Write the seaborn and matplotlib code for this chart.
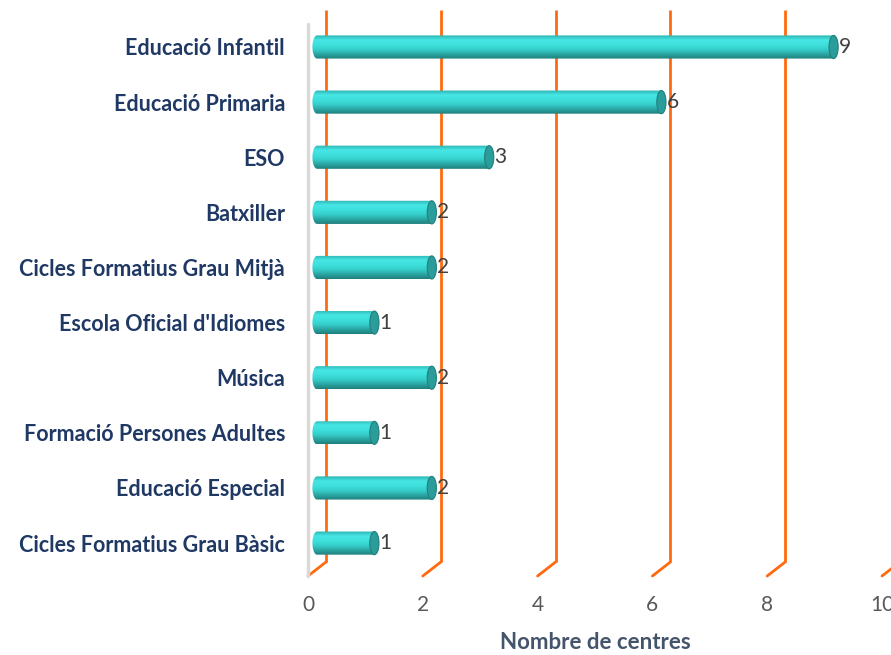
import matplotlib
matplotlib.use('Agg')
import matplotlib.pyplot as plt
import matplotlib.transforms as mtransforms
from matplotlib.colors import LinearSegmentedColormap
from matplotlib.patches import Ellipse, PathPatch
from matplotlib.path import Path
import numpy as np
import pandas as pd
import seaborn as sns

# Data
categories = ['Educació Infantil', 'Educació Primaria', 'ESO', 'Batxiller',
              'Cicles Formatius Grau Mitjà', "Escola Oficial d'Idiomes",
              'Música', 'Formació Persones Adultes', 'Educació Especial',
              'Cicles Formatius Grau Bàsic']
centres = [9, 6, 3, 2, 2, 1, 2, 1, 2, 1]
x_ticks = [0, 2, 4, 6, 8, 10]

df = pd.DataFrame({'nivell': categories, 'centres': centres})

sns.set_style('white')
plt.rcParams['font.family'] = ['Lato', 'DejaVu Sans']

fig = plt.figure(figsize=(8.91, 6.55), dpi=100)
ax = fig.add_axes([317 / 891, 1 - 569 / 655, 574 / 891, 552 / 655])

sns.barplot(data=df, x='centres', y='nivell', orient='h', color='#3cd6d2',
            width=0.42, ax=ax, zorder=3)

ax.set_xlim(0, 10)
ax.set_ylim(9.47, -0.544)
sns.despine(ax=ax, left=True, bottom=True)

# 3D-ish offsets (back wall / front floor edge)
dx, dy = 9 / 100, 7 / 100
back = ax.transData + mtransforms.ScaledTranslation(dx, dy, fig.dpi_scale_trans)
front = ax.transData + mtransforms.ScaledTranslation(-dx, -dy, fig.dpi_scale_trans)
ytop, ybot = ax.get_ylim()[1], ax.get_ylim()[0]

for t in x_ticks:
    ax.plot([t, t], [ytop, ybot], color='#ff6a10', lw=2, transform=back,
            clip_on=False, zorder=1, solid_capstyle='butt')
    # diagonal from back bottom to front bottom
    p_back = back.transform((t, ybot))
    p_front = front.transform((t, ybot))
    ax.plot([p_back[0], p_front[0]], [p_back[1], p_front[1]], color='#ff6a10',
            lw=2, transform=None, clip_on=False, zorder=1)

# left wall edge
ax.plot([0, 0], [ytop, ybot], color='#d9d9d9', lw=2.5, transform=front,
        clip_on=False, zorder=2)

# cylinder shading
cyl = LinearSegmentedColormap.from_list(
    'cyl', ['#2bb3b0', '#46e6e4', '#3ee0dc', '#36cfcb', '#2aa6a3', '#1f7f7d'])
grad = np.linspace(0, 1, 64).reshape(-1, 1)
cap_w = 0.16
for patch, val in zip(ax.patches, centres):
    x0, y0 = patch.get_x(), patch.get_y()
    w, h = patch.get_width(), patch.get_height()
    yc = y0 + h / 2
    patch.set_visible(False)
    theta = np.linspace(np.pi / 2, 3 * np.pi / 2, 30)
    xs = list(x0 + cap_w / 2 * np.cos(theta)) + [x0 + w, x0 + w]
    ys = list(yc - h / 2 * np.sin(theta)) + [y0 + h, y0]
    clip = PathPatch(Path(np.column_stack([xs, ys])), transform=ax.transData,
                     facecolor='none', edgecolor='none')
    ax.add_patch(clip)
    im = ax.imshow(grad, cmap=cyl, aspect='auto', interpolation='bilinear',
                   extent=(x0 - cap_w, x0 + w, y0 + h, y0), zorder=3)
    im.set_clip_path(clip)
    im.set_clip_box(fig.bbox)
    ax.add_patch(Ellipse((x0 + w, yc), cap_w, h, facecolor='#2a9c99',
                         edgecolor='#237f7d', lw=0.8, zorder=4))
    ax.text(x0 + w + cap_w / 2 + 0.01, yc, str(val), va='center', ha='left',
            fontsize=15, color='#404040', zorder=5)

ax.set_xlim(0, 10)
ax.set_ylim(9.47, -0.544)

ax.set_xticks(x_ticks)
ax.set_xticklabels([str(t) for t in x_ticks])
ax.tick_params(axis='x', length=0, pad=19, labelsize=15, labelcolor='#595959')
for lab in ax.get_xticklabels():
    lab.set_transform(lab.get_transform()
                      + mtransforms.ScaledTranslation(-dx, 0, fig.dpi_scale_trans))
ax.tick_params(axis='y', length=0, pad=23, labelsize=15.5, labelcolor='#1f3864')
for lab in ax.get_yticklabels():
    lab.set_fontweight('bold')
ax.set_ylabel('')
ax.set_xlabel('Nombre de centres', fontsize=16, fontweight='bold', color='#44546a')
ax.xaxis.set_label_coords((595 - 317) / 574, -(632 - 569) / 552)
ax.grid(False)

fig.savefig('out.png', dpi=100)
